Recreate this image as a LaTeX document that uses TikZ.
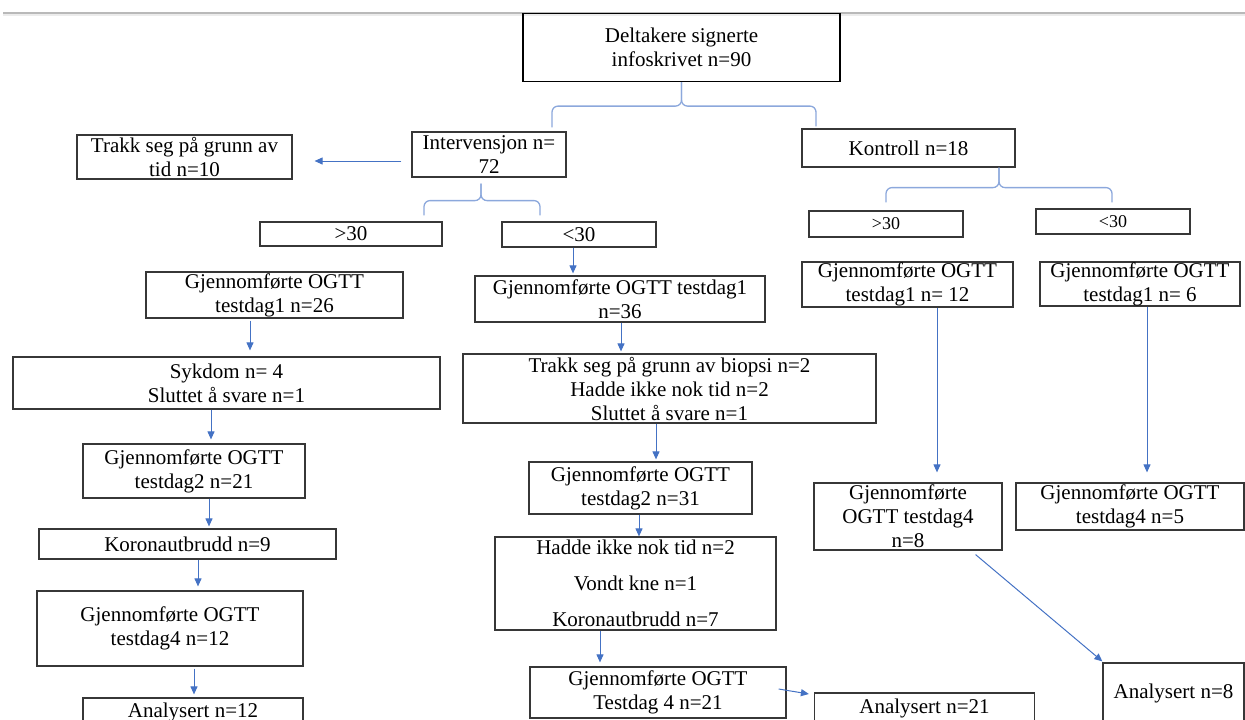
\documentclass[tikz,border=0pt]{standalone}
\usepackage{fontspec}
\setmainfont{Liberation Serif}
\usetikzlibrary{arrows.meta,calc}
\definecolor{boxgray}{RGB}{55,55,55}
\definecolor{arrowblue}{RGB}{68,114,196}
\definecolor{braceblue}{RGB}{140,168,220}
\tikzset{
  box/.style 2 args = {draw=boxgray, line width=1.2pt, rectangle, align=center, inner sep=0pt,
                       minimum width=#1pt, minimum height=#2pt, font=\fontsize{21}{24}\selectfont},
  small/.style      = {font=\fontsize{18}{21}\selectfont},
  post/.style       = {-{Triangle[length=8pt,width=7pt]}, draw=arrowblue, line width=1pt},
  brace/.style      = {draw=braceblue, line width=1.3pt, rounded corners=6pt}
}

\begin{document}
\begin{tikzpicture}[x=1pt, y=-1pt]
      \useasboundingbox (0,0) rectangle (1245,720);
      \clip (0,0) rectangle (1245,720);
      \draw[gray!55, line width=1.3pt] (3,13) -- (1245,13);
      \draw[gray!15, line width=2pt] (3,15) -- (1245,15);

      \node[box={317}{68}, draw=black] (top) at (681.5,47.5) {Deltakere signerte\\infoskrivet n=90};
      \node[box={154}{45}] (interv) at (489,154.5) {Intervensjon n=\\72};
      \node[box={215}{44}] (trakk) at (184.5,157) {Trakk seg på grunn av\\tid n=10};
      \node[box={213}{38}] (kontroll) at (908.5,148) {Kontroll n=18};

      \node[box={182}{24}] (igt) at (351,234) {>30};
      \node[box={154}{25}] (ilt) at (579,234.5) {<30};
      \node[box={154}{26}, small] (kgt) at (886,224) {>30};
      \node[box={154}{25}, small] (klt) at (1113,221.5) {<30};

      \node[box={257}{46}] (ia1) at (274.5,295) {Gjennomførte OGTT\\testdag1 n=26};
      \node[box={290}{46}] (ib1) at (620,299) {Gjennomførte OGTT testdag1\\n=36};
      \node[box={211}{45}] (ka1) at (907.5,284.5) {Gjennomførte OGTT\\testdag1 n= 12};
      \node[box={200}{44}] (kb1) at (1140,284) {Gjennomførte OGTT\\testdag1 n= 6};

      \node[box={427}{52}] (iadrop) at (226.5,383) {Sykdom n= 4\\Sluttet å svare n=1};
      \node[box={413}{69}] (ibdrop) at (669.5,388.5) {Trakk seg på grunn av biopsi n=2\\Hadde ikke nok tid n=2\\Sluttet å svare n=1};

      \node[box={222}{54}] (ia2) at (194,471) {Gjennomførte OGTT\\testdag2 n=21};
      \node[box={223}{52}] (ib2) at (640.5,488) {Gjennomførte OGTT\\testdag2 n=31};
      \node[box={188}{67}] (ka4) at (908,516.5) {Gjennomførte\\OGTT testdag4\\n=8};
      \node[box={228}{47}] (kb4) at (1130,506.5) {Gjennomførte OGTT\\testdag4 n=5};

      \node[box={297}{30}] (iadrop2) at (187.5,544) {Koronautbrudd n=9};
      \node[box={281}{93}] (ibdrop2) at (635.5,583.5) {Hadde ikke nok tid n=2\\[12pt]Vondt kne n=1\\[12pt]Koronautbrudd n=7};

      \node[box={266}{75}] (ia4) at (170,628.5) {Gjennomførte OGTT\\testdag4 n=12};
      \node[box={256}{51}] (ib4) at (658,692.5) {Gjennomførte OGTT\\Testdag 4 n=21};

      \node[box={220}{28}] (iaan) at (193,712) {Analysert n=12};
      \node[box={220}{30}] (ibaan) at (924.5,708) {Analysert n=21};
      \node[box={141}{60}] (kaan) at (1173.5,693) {Analysert n=8};

      \draw[brace] (top.south) -- ++(0,24) -| ([xshift=63pt,yshift=4pt]interv.north);
      \draw[brace] (top.south) -- ++(0,24) -| ([xshift=-92.5pt,yshift=2pt]kontroll.north);
      \draw[brace] ([xshift=-8pt,yshift=-6pt]interv.south) -- ++(0,17) -| ([xshift=73pt,yshift=6pt]igt.north);
      \draw[brace] ([xshift=-8pt,yshift=-6pt]interv.south) -- ++(0,17) -| ([xshift=-39pt,yshift=6pt]ilt.north);
      \draw[brace] ([xshift=90.5pt]kontroll.south) -- ++(0,20) -| ([yshift=8pt]kgt.north);
      \draw[brace] ([xshift=90.5pt]kontroll.south) -- ++(0,20) -| ([xshift=-1pt,yshift=6pt]klt.north);

      \draw[post] ($(interv.west)+(-10,6.5)$) -- ($(trakk.east)+(22,4)$);
      \draw[post] ($(ilt.south)+(-6,0)$) -- ($(ilt.south |- ib1.north)+(-6,-2)$);
      \draw[post] ($(ia1.south)+(-24.5,2)$) -- ($(ia1.south |- iadrop.north)+(-24.5,-6)$);
      \draw[post] ($(ib1.south)+(1,0)$) -- ($(ib1.south |- ibdrop.north)+(1,-2)$);
      \draw[post] ($(iadrop.south)+(-15.5,0)$) -- ($(iadrop.south |- ia2.north)+(-15.5,-4)$);
      \draw[post] ($(ibdrop.south)+(-13.5,0)$) -- ($(ibdrop.south |- ib2.north)+(-13.5,-2)$);
      \draw[post] ($(ka1.south)+(29.5,0)$) -- ($(ka1.south |- ka4.north)+(29.5,-10)$);
      \draw[post] ($(kb1.south)+(7,0)$) -- ($(kb1.south |- kb4.north)+(7,-10)$);
      \draw[post] ($(ia2.south)+(15,0)$) -- ($(ia2.south |- iadrop2.north)+(15,-2)$);
      \draw[post] ($(ib2.south)+(-1.5,0)$) -- ($(ib2.south |- ibdrop2.north)+(-1.5,0)$);
      \draw[post] ($(iadrop2.south)+(10.5,0)$) -- ($(iadrop2.south |- ia4.north)+(10.5,-4)$);
      \draw[post] ($(ibdrop2.south)+(-35.5,0)$) -- ($(ibdrop2.south |- ib4.north)+(-35.5,-4)$);
      \draw[post] ($(ia4.south)+(24,2)$) -- ($(ia4.south |- iaan.north)+(24,-3)$);
      \draw[post] ($(ib4.east)+(-8,-3.5)$) -- ($(ibaan.west)+(-5,-14)$);
      \draw[post] ($(ka4.south east)+(-27,4)$) -- ($(kaan.north west)+(0,-1)$);
    \end{tikzpicture}
\end{document}
